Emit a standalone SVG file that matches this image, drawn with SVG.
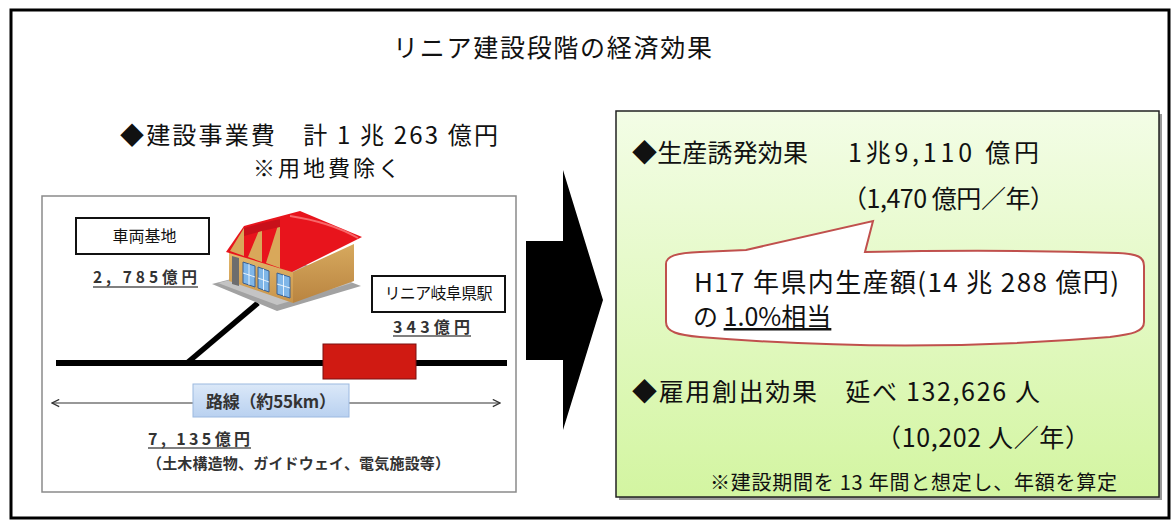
<svg xmlns="http://www.w3.org/2000/svg" width="1173" height="520" viewBox="0 0 1173 520">
  <style>
    .jp { font-family: "Noto Sans CJK JP", "Noto Sans", sans-serif; fill: #111; }
    .head { font-size: 24px; }
    .sub { font-size: 22px; }
    .green { font-size: 25px; }
    .note { font-size: 20px; }
    .fig { font-family: "Noto Sans CJK JP", "Noto Sans", sans-serif; font-weight: 700; fill: #333; }
    .lbl { font-family: "Noto Sans CJK JP", "Noto Sans", sans-serif; font-size: 16px; fill: #111; }
    .box { fill: #fff; stroke: #111; stroke-width: 2; }
    .ul { stroke: #555; stroke-width: 1.5; }
  </style>
  <defs>
    <linearGradient id="greenFill" x1="0" y1="0" x2="0" y2="1">
      <stop offset="0" stop-color="#f3fde6"/>
      <stop offset="1" stop-color="#d3f5a1"/>
    </linearGradient>
    <linearGradient id="blueFill" x1="0" y1="0" x2="0" y2="1">
      <stop offset="0" stop-color="#dbe8f8"/>
      <stop offset="1" stop-color="#b9d1f0"/>
    </linearGradient>
    <linearGradient id="wallFront" x1="0" y1="0" x2="0" y2="1">
      <stop offset="0" stop-color="#e4b96c"/>
      <stop offset="1" stop-color="#c8944a"/>
    </linearGradient>
    <linearGradient id="wallSide" x1="0" y1="0" x2="0" y2="1">
      <stop offset="0" stop-color="#d7a95e"/>
      <stop offset="1" stop-color="#b98440"/>
    </linearGradient>
    <marker id="openHead" viewBox="0 0 10 10" refX="9" refY="5" markerWidth="9" markerHeight="9" orient="auto-start-reverse" markerUnits="userSpaceOnUse">
      <path d="M1,1 L9,5 L1,9" fill="none" stroke="#333" stroke-width="1.4"/>
    </marker>
  </defs>

  <rect width="1173" height="520" fill="#fff"/>

  <!-- outer frame -->
  <rect x="11" y="10" width="1158" height="508" fill="none" stroke="#000" stroke-width="3"/>

  <!-- heading -->
  <g id="title">
    <text class="jp" x="393" y="57" font-size="25" textLength="319" lengthAdjust="spacing">リニア建設段階の経済効果</text>
  </g>

  <!-- construction cost summary -->
  <g id="cost-summary">
    <text class="jp head" x="120" y="144" textLength="378" lengthAdjust="spacing">◆建設事業費　計 1 兆 263 億円</text>
    <text class="jp sub" x="253" y="176" textLength="147" lengthAdjust="spacing">※用地費除く</text>
  </g>

  <!-- route figure panel -->
  <g id="route-panel">
    <rect x="42" y="196" width="474" height="296" fill="#fff" stroke="#8a8a8a" stroke-width="1.5"/>
  </g>

  <!-- connectors: track, depot spur and route span -->
  <g id="connectors">
    <line x1="56" y1="363" x2="507" y2="363" stroke="#000" stroke-width="6"/>
    <line x1="187" y1="363" x2="258" y2="303" stroke="#000" stroke-width="5.5"/>
    <line x1="52" y1="403" x2="500" y2="403" stroke="#333" stroke-width="1.2" marker-start="url(#openHead)" marker-end="url(#openHead)"/>
  </g>

  <g id="depot">
    <rect class="box" x="76" y="218" width="133" height="36"/>
    <text class="lbl" x="144.5" y="242" text-anchor="middle">車両基地</text>
    <text class="fig" x="93" y="283" font-size="15.5" textLength="104" lengthAdjust="spacing">2, 785億円</text>
    <line class="ul" x1="93" y1="287" x2="198" y2="287"/>
  </g>

  <!-- depot building: sawtooth-roof shed -->
  <g id="depot-building">
    <polygon points="212,284 277,311 361,286 298,262" fill="#a2a2a2"/>
    <polygon points="218,283 277,305 352,283 298,264" fill="#c4c4c4"/>
    <polygon points="229,251 293,272 293,303 229,281" fill="url(#wallFront)"/>
    <polygon points="293,272 354,244 354,281 293,303" fill="url(#wallSide)"/>
    <polygon points="232,256 239,258 239,286 232,284" fill="#6d6d6d"/>
    <g fill="#7fb6e8" stroke="#3a5f90" stroke-width="1">
      <polygon points="243,262 255,266 255,287 243,283"/>
      <polygon points="258,267 269,271 269,292 258,288"/>
      <polygon points="277,273 290,277 290,298 277,294"/>
    </g>
    <g stroke="#fff" stroke-width="0.8">
      <line x1="249" y1="264" x2="249" y2="285"/>
      <line x1="243" y1="273" x2="255" y2="277"/>
      <line x1="263.5" y1="269" x2="263.5" y2="290"/>
      <line x1="258" y1="278" x2="269" y2="282"/>
      <line x1="283.5" y1="275" x2="283.5" y2="296"/>
      <line x1="277" y1="284" x2="290" y2="288"/>
    </g>
    <!-- roof surface -->
    <polygon points="226,252 244,226 300,211 362,237 292,272" fill="#e8141c"/>
    <!-- gable ends of the saw teeth -->
    <g fill="#d9a85a">
      <polygon points="230,251 244,228 244,256"/>
      <polygon points="248,257 262,223 262,262"/>
      <polygon points="266,263 280,219 280,268"/>
    </g>
    <g fill="#c8101a">
      <polygon points="244,228 262,223 262,231 244,236"/>
      <polygon points="262,223 280,219 280,227 262,231"/>
    </g>
    <path d="M290,216 Q330,222 358,238" fill="none" stroke="#ff8a8a" stroke-width="2" opacity="0.7"/>
  </g>

  <g id="gifu-station">
    <rect class="box" x="372" y="276" width="133" height="36"/>
    <text class="lbl" x="438.5" y="299" text-anchor="middle" textLength="108" lengthAdjust="spacing">リニア岐阜県駅</text>
    <text class="fig" x="393" y="333" font-size="16" textLength="77" lengthAdjust="spacing">343億円</text>
    <line class="ul" x1="393" y1="336" x2="471" y2="336"/>
    <rect x="323" y="344" width="93" height="35" fill="#d01a12" stroke="#7a1010" stroke-width="1"/>
  </g>

  <g id="route-label">
    <rect x="193" y="384" width="156" height="33" fill="url(#blueFill)" stroke="#9cb9e0" stroke-width="1"/>
    <text class="fig" x="271" y="408" font-size="17" text-anchor="middle" textLength="130" lengthAdjust="spacing">路線（約55km）</text>
  </g>

  <g id="route-cost">
    <text class="fig" x="148" y="445" font-size="16" textLength="102" lengthAdjust="spacing">7, 135億円</text>
    <line class="ul" x1="148" y1="448" x2="251" y2="448"/>
    <text class="fig" x="147" y="469" font-size="15" textLength="303" lengthAdjust="spacing">（土木構造物、ガイドウェイ、電気施設等）</text>
  </g>

  <!-- block arrow -->
  <g id="effect-arrow">
    <polygon points="526,241 563,241 563,170 603,300 563,430 563,360 526,360" fill="#000"/>
  </g>

  <!-- economic effects panel -->
  <g id="effects-panel">
    <rect x="619" y="114" width="543" height="386" fill="#9a9a9a"/>
    <rect x="616" y="111" width="543" height="386" fill="url(#greenFill)" stroke="#222" stroke-width="1.5"/>
    <text class="jp green" x="632" y="162" textLength="176" lengthAdjust="spacing">◆生産誘発効果</text>
    <text class="jp green" x="848" y="162" textLength="191" lengthAdjust="spacing">1兆9,110 億円</text>
    <text class="jp green" x="842" y="208" textLength="213" lengthAdjust="spacing">（1,470 億円／年）</text>
    <text class="jp green" x="632" y="401" textLength="408" lengthAdjust="spacing">◆雇用創出効果　延べ 132,626 人</text>
    <text class="jp green" x="876" y="447" textLength="214" lengthAdjust="spacing">（10,202 人／年）</text>
    <text class="jp note" x="710" y="490" textLength="407" lengthAdjust="spacing">※建設期間を 13 年間と想定し、年額を算定</text>
  </g>

  <!-- callout -->
  <g id="share-callout">
    <path d="M666,264 C666,256 676,253 700,252 L746,250 L873,221 L865,252 Q1000,249 1118,253 C1138,254 1144,257 1144,266 L1144,322 C1144,332 1132,334 1110,337 Q905,354 700,337 C678,335 666,332 666,322 Z" fill="#fff" stroke="#c0504d" stroke-width="2"/>
    <text class="jp" x="694" y="292" font-size="26" textLength="425" lengthAdjust="spacing">H17 年県内生産額(14 兆 288 億円)</text>
    <text class="jp" x="693" y="326" font-size="25">の <tspan text-decoration="underline">1.0%相当</tspan></text>
  </g>
</svg>
